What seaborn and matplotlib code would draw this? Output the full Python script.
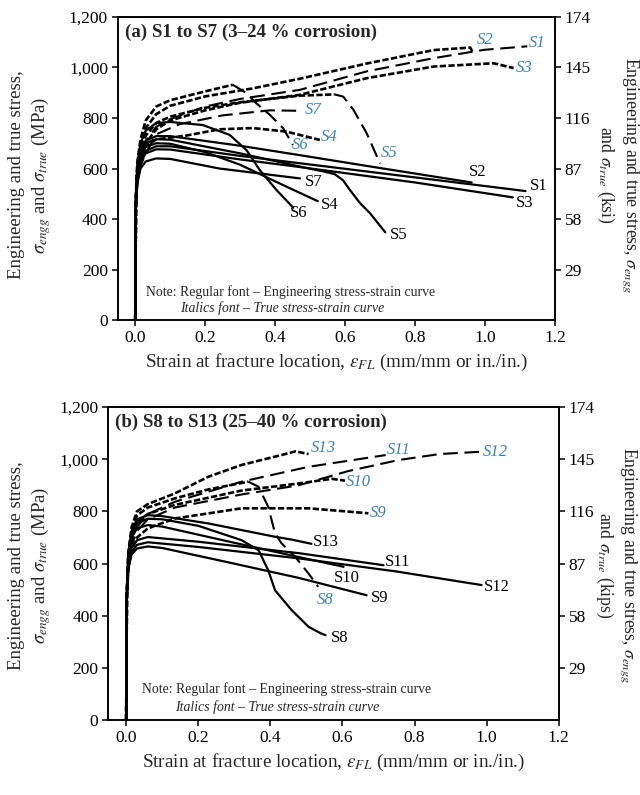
import matplotlib
matplotlib.use("Agg")
import matplotlib.pyplot as plt
import seaborn as sns
from matplotlib.ticker import FuncFormatter

# ---------------------------------------------------------------
# Panel (a): specimens S1-S7, (strain, stress in MPa) pairs
# ---------------------------------------------------------------
S1_ENG = [(0, 0), (0.002, 470), (0.006, 570), (0.015, 635), (0.03, 670), (0.06, 688),
          (0.1, 688), (0.3, 650), (0.47, 621), (0.8, 565), (1.116, 511)]
S2_ENG = [(0, 0), (0.002, 480), (0.006, 600), (0.015, 670), (0.03, 710), (0.06, 728),
          (0.1, 728), (0.3, 690), (0.47, 653), (0.7, 602), (0.962, 545)]
S3_ENG = [(0, 0), (0.002, 460), (0.006, 560), (0.015, 625), (0.03, 660), (0.06, 676),
          (0.1, 675), (0.3, 636), (0.47, 606), (0.8, 545), (1.08, 486)]
S4_ENG = [(0, 0), (0.002, 470), (0.006, 580), (0.015, 645), (0.03, 685), (0.06, 700),
          (0.1, 698), (0.2, 665), (0.3, 615), (0.413, 541), (0.522, 471)]
S5_ENG = [(0, 0), (0.002, 480), (0.006, 590), (0.015, 660), (0.03, 700), (0.06, 716),
          (0.1, 714), (0.3, 660), (0.48, 605), (0.54, 588), (0.57, 578), (0.594, 554),
          (0.614, 515), (0.643, 463), (0.671, 424), (0.715, 348)]
S6_ENG = [(0, 0), (0.002, 500), (0.006, 620), (0.015, 700), (0.03, 750), (0.06, 780),
          (0.1, 784), (0.193, 772), (0.27, 733), (0.318, 673), (0.356, 594),
          (0.404, 515), (0.452, 445)]
S7_ENG = [(0, 0), (0.002, 450), (0.006, 540), (0.015, 600), (0.03, 628), (0.06, 640),
          (0.1, 638), (0.241, 600), (0.471, 561)]

S1_TRUE = [(0, 0), (0.002, 470), (0.006, 575), (0.015, 650), (0.03, 710), (0.06, 765),
           (0.1, 795), (0.2, 845), (0.3, 875), (0.471, 911), (0.662, 984), (0.853, 1036),
           (0.997, 1069), (1.121, 1083)]
S2_TRUE = [(0, 0), (0.002, 480), (0.006, 605), (0.015, 690), (0.03, 760), (0.06, 815),
           (0.1, 848), (0.2, 885), (0.337, 917), (0.471, 955), (0.662, 1015),
           (0.853, 1068), (0.958, 1078), (0.964, 1062)]
S3_TRUE = [(0, 0), (0.002, 460), (0.006, 565), (0.015, 640), (0.03, 700), (0.06, 755),
           (0.1, 790), (0.2, 830), (0.3, 860), (0.47, 891), (0.662, 957), (0.853, 1003),
           (1.025, 1016), (1.082, 997)]
S4_TRUE = [(0, 0), (0.002, 470), (0.006, 585), (0.015, 650), (0.03, 690), (0.06, 715),
           (0.145, 730), (0.241, 755), (0.336, 760), (0.432, 746), (0.528, 713)]
S5_TRUE = [(0, 0), (0.002, 480), (0.006, 595), (0.015, 670), (0.03, 730), (0.06, 780),
           (0.1, 805), (0.2, 840), (0.3, 862), (0.47, 888), (0.57, 893), (0.595, 884),
           (0.624, 832), (0.662, 739), (0.70, 620)]
S6_TRUE = [(0, 0), (0.002, 500), (0.006, 625), (0.015, 715), (0.03, 790), (0.06, 845),
           (0.1, 870), (0.2, 905), (0.279, 931), (0.318, 898), (0.346, 858),
           (0.385, 812), (0.423, 759), (0.451, 693)]
S7_TRUE = [(0, 0), (0.002, 450), (0.006, 545), (0.015, 610), (0.03, 660), (0.06, 735),
           (0.126, 775), (0.25, 810), (0.385, 830), (0.476, 828)]

# ---------------------------------------------------------------
# Panel (b): specimens S8-S13
# ---------------------------------------------------------------
S8_ENG = [(0, 0), (0.002, 500), (0.006, 630), (0.015, 710), (0.03, 755), (0.06, 772),
          (0.1, 770), (0.2, 745), (0.32, 690), (0.367, 652), (0.394, 575), (0.413, 498),
          (0.459, 422), (0.506, 358), (0.54, 333), (0.553, 326)]
S9_ENG = [(0, 0), (0.002, 470), (0.006, 580), (0.015, 635), (0.03, 658), (0.06, 666),
          (0.1, 660), (0.3, 600), (0.48, 545), (0.667, 479)]
S10_ENG = [(0, 0), (0.002, 490), (0.006, 620), (0.015, 700), (0.03, 735), (0.06, 748),
           (0.1, 742), (0.3, 680), (0.48, 625), (0.603, 588)]
S11_ENG = [(0, 0), (0.002, 480), (0.006, 600), (0.015, 660), (0.03, 690), (0.06, 702),
           (0.2, 684), (0.48, 640), (0.714, 594)]
S12_ENG = [(0, 0), (0.002, 470), (0.006, 585), (0.015, 645), (0.03, 672), (0.06, 682),
           (0.2, 664), (0.48, 620), (0.75, 570), (0.986, 518)]
S13_ENG = [(0, 0), (0.002, 500), (0.006, 640), (0.015, 725), (0.03, 770), (0.06, 786),
           (0.1, 782), (0.228, 754), (0.413, 703), (0.46, 692), (0.514, 676)]

S8_TRUE = [(0, 0), (0.002, 500), (0.006, 635), (0.015, 725), (0.03, 785), (0.06, 815),
           (0.135, 850), (0.23, 885), (0.339, 914), (0.367, 895), (0.394, 818),
           (0.413, 716), (0.431, 678), (0.469, 626), (0.506, 562), (0.533, 511)]
S9_TRUE = [(0, 0), (0.002, 470), (0.006, 585), (0.015, 650), (0.03, 700), (0.06, 735),
           (0.135, 773), (0.32, 812), (0.506, 812), (0.672, 793)]
S10_TRUE = [(0, 0), (0.002, 490), (0.006, 625), (0.015, 715), (0.03, 760), (0.06, 790),
            (0.135, 825), (0.32, 880), (0.478, 907), (0.57, 925), (0.607, 918)]
S11_TRUE = [(0, 0), (0.002, 480), (0.006, 605), (0.015, 680), (0.03, 740), (0.06, 790),
            (0.135, 837), (0.32, 914), (0.506, 971), (0.72, 1016)]
S12_TRUE = [(0, 0), (0.002, 480), (0.006, 600), (0.015, 670), (0.03, 725), (0.06, 770),
            (0.135, 815), (0.32, 865), (0.478, 900), (0.617, 955), (0.756, 997),
            (0.87, 1020), (0.987, 1029)]
S13_TRUE = [(0, 0), (0.002, 500), (0.006, 640), (0.015, 740), (0.03, 800), (0.06, 828),
            (0.135, 869), (0.228, 933), (0.32, 978), (0.413, 1010), (0.47, 1030),
            (0.506, 1020)]

Y_TICKS_MPA = [0, 200, 400, 600, 800, 1000, 1200]
X_TICKS = [0.0, 0.2, 0.4, 0.6, 0.8, 1.0, 1.2]
MPA_TO_KSI = 0.145

# ---------------------------------------------------------------
# Styling
# ---------------------------------------------------------------
sns.set_theme(style="ticks")
plt.rcParams["font.family"] = ["Liberation Serif", "DejaVu Serif"]
plt.rcParams["mathtext.fontset"] = "stix"
plt.rcParams["axes.linewidth"] = 1.2

BLUE = "#3b82b9"
FINE = (0, (2.4, 0.9))
LONG = (0, (7, 3.2))

fig = plt.figure(figsize=(6.4, 7.95), dpi=100)
ax_a = fig.add_axes([0.184, 0.597, 0.683, 0.382])
ax_b = fig.add_axes([0.169, 0.094, 0.704, 0.394])


def draw_curve(ax, pts, style, lw):
    xs = [p[0] for p in pts]
    ys = [p[1] for p in pts]
    sns.lineplot(x=xs, y=ys, ax=ax, sort=False, estimator=None,
                 color="black", linewidth=lw, linestyle=style)


def draw_true_with_tail(ax, pts):
    # serrated up to the maximum, long dashes along the post-peak drop
    ys = [p[1] for p in pts]
    k = ys.index(max(ys))
    draw_curve(ax, pts[:k + 1], FINE, 1.9)
    draw_curve(ax, pts[k:], LONG, 1.5)


def frame(ax, title, right_unit, left_x, right_x, y_mid):
    ax.set_xlim(-0.05, 1.2)
    ax.set_ylim(0, 1200)
    ax.set_xticks(X_TICKS)
    ax.set_xticklabels([f"{v:.1f}" for v in X_TICKS])
    ax.set_yticks(Y_TICKS_MPA)
    ax.yaxis.set_major_formatter(FuncFormatter(lambda v, p: f"{int(v):,}"))
    ax.tick_params(axis="both", direction="out", length=4, width=1.1,
                   labelsize=12.5, pad=3, colors="black")
    ax.set_xlabel(r"Strain at fracture location, $\varepsilon_{FL}$ (mm/mm or in./in.)",
                  fontsize=13.8)
    ax.set_ylabel("")
    for s in ax.spines.values():
        s.set_color("black")
    tw = ax.twinx()
    tw.set_ylim(0, 1200)
    tw.set_yticks(Y_TICKS_MPA[1:])
    tw.set_yticklabels([str(round(v * MPA_TO_KSI)) for v in Y_TICKS_MPA[1:]])
    tw.tick_params(axis="y", direction="out", length=4, width=1.1,
                   labelsize=12.5, pad=3, colors="black")
    for s in tw.spines.values():
        s.set_color("black")
        s.set_linewidth(1.2)
    ax.text(0.016, 0.95, title, transform=ax.transAxes, fontsize=13.6,
            fontweight="bold", ha="left", va="center")
    fig.text(left_x, y_mid,
             "Engineering and true stress,\n$\\sigma_{engg}$ and $\\sigma_{true}$ (MPa)",
             rotation=90, ha="center", va="center", multialignment="center",
             fontsize=13.5, linespacing=1.25)
    fig.text(right_x, y_mid,
             "Engineering and true stress, $\\sigma_{engg}$\nand $\\sigma_{true}$ (" + right_unit + ")",
             rotation=270, ha="center", va="center", multialignment="center",
             fontsize=12.8, linespacing=1.25)


def note(ax, x1, x2, y1, y2):
    ax.text(x1, y1, "Note: Regular font \u2013 Engineering stress-strain curve",
            transform=ax.transAxes, fontsize=9.9, ha="center", va="center")
    ax.text(x2, y2, "Italics font \u2013 True stress-strain curve",
            transform=ax.transAxes, fontsize=9.9, ha="center", va="center",
            style="italic")


def tag(ax, xy, text, true_curve):
    ax.text(xy[0], xy[1], text, fontsize=12, ha="left", va="center",
            color=BLUE if true_curve else "black",
            style="italic" if true_curve else "normal")


# ---------------------- panel (a) ----------------------
for pts in [S1_ENG, S2_ENG, S3_ENG, S4_ENG, S5_ENG, S6_ENG, S7_ENG]:
    draw_curve(ax_a, pts, "-", 1.6)
draw_curve(ax_a, S1_TRUE, LONG, 1.5)
draw_curve(ax_a, S2_TRUE, FINE, 1.9)
draw_curve(ax_a, S3_TRUE, FINE, 1.9)
draw_curve(ax_a, S4_TRUE, FINE, 1.9)
draw_true_with_tail(ax_a, S5_TRUE)
draw_true_with_tail(ax_a, S6_TRUE)
draw_curve(ax_a, S7_TRUE, LONG, 1.5)

for name, xy in {"S1": (1.128, 532), "S2": (0.955, 586), "S3": (1.088, 463),
                 "S4": (0.531, 455), "S5": (0.729, 337), "S6": (0.442, 424),
                 "S7": (0.485, 547)}.items():
    tag(ax_a, xy, name, False)
for name, xy in {"S1": (1.125, 1097), "S2": (0.976, 1109), "S3": (1.088, 998),
                 "S4": (0.531, 725), "S5": (0.703, 661), "S6": (0.448, 693),
                 "S7": (0.485, 832)}.items():
    tag(ax_a, xy, name, True)

frame(ax_a, "(a) S1 to S7 (3\u201324 % corrosion)", "ksi", 0.048, 0.965, 0.78)
ax_a.xaxis.set_label_coords(0.5, -0.105)
note(ax_a, 0.395, 0.376, 0.092, 0.040)

# ---------------------- panel (b) ----------------------
for pts in [S8_ENG, S9_ENG, S10_ENG, S11_ENG, S12_ENG, S13_ENG]:
    draw_curve(ax_b, pts, "-", 1.6)
draw_true_with_tail(ax_b, S8_TRUE)
draw_curve(ax_b, S9_TRUE, FINE, 1.9)
draw_curve(ax_b, S10_TRUE, FINE, 1.9)
draw_curve(ax_b, S11_TRUE, LONG, 1.5)
draw_curve(ax_b, S12_TRUE, LONG, 1.5)
draw_curve(ax_b, S13_TRUE, FINE, 1.9)

for name, xy in {"S8": (0.569, 314), "S9": (0.678, 468), "S10": (0.575, 544),
                 "S11": (0.717, 606), "S12": (0.992, 510), "S13": (0.519, 682)}.items():
    tag(ax_b, xy, name, False)
for name, xy in {"S8": (0.528, 460), "S9": (0.676, 794), "S10": (0.61, 913),
                 "S11": (0.722, 1035), "S12": (0.99, 1028), "S13": (0.512, 1043)}.items():
    tag(ax_b, xy, name, True)

frame(ax_b, "(b) S8 to S13 (25\u201340 % corrosion)", "kips", 0.048, 0.963, 0.289)
ax_b.xaxis.set_label_coords(0.5, -0.1)
note(ax_b, 0.397, 0.376, 0.099, 0.042)

fig.savefig("out.png", dpi=100, facecolor="white")
